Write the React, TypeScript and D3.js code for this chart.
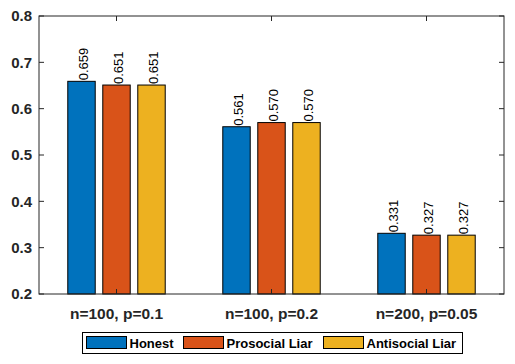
import React, { useRef, useEffect } from "react";
import * as d3 from "d3";

const categories = ["n=100, p=0.1", "n=100, p=0.2", "n=200, p=0.05"];
const seriesNames = ["Honest", "Prosocial Liar", "Antisocial Liar"];
const honest = [0.659, 0.561, 0.331];
const prosocial = [0.651, 0.57, 0.327];
const antisocial = [0.651, 0.57, 0.327];
const yTicks = [0.2, 0.3, 0.4, 0.5, 0.6, 0.7, 0.8];
const colors = ["#0072BD", "#D95319", "#EDB120"];

const W = 515;
const H = 364;
const left = 39;
const right = 504;
const top = 16;
const bottom = 294;
const font = "'Liberation Sans', Arial, sans-serif";
const ink = "#262626";

const App = () => {
  const ref = useRef<SVGSVGElement>(null);

  useEffect(() => {
    const svg = d3.select(ref.current);
    svg.selectAll("*").remove();

    const series = [honest, prosocial, antisocial];
    const x = d3.scaleLinear().domain([0.5, 3.5]).range([left, right]);
    const y = d3.scaleLinear().domain([0.2, 0.8]).range([bottom, top]);
    const offset = 0.2258;
    const bw = 0.177;

    series.forEach((vals, s) => {
      const g = svg.append("g");
      g.selectAll("rect")
        .data(vals)
        .enter()
        .append("rect")
        .attr("x", (d, i) => x(i + 1 + (s - 1) * offset - bw / 2))
        .attr("y", (d) => y(d))
        .attr("width", x(bw) - x(0))
        .attr("height", (d) => y(0.2) - y(d))
        .attr("fill", colors[s])
        .attr("stroke", "#000")
        .attr("stroke-width", 1);

      g.selectAll("text")
        .data(vals)
        .enter()
        .append("text")
        .attr("transform", (d, i) => {
          const cx = x(i + 1 + (s - 1) * offset);
          return `translate(${cx + 6.5}, ${y(d) - 1}) rotate(-90)`;
        })
        .attr("font-family", font)
        .attr("font-size", 13)
        .attr("fill", "#000")
        .text((d) => d3.format(".3f")(d));
    });

    // box
    svg.append("rect")
      .attr("x", left).attr("y", top)
      .attr("width", right - left).attr("height", bottom - top)
      .attr("fill", "none").attr("stroke", ink).attr("stroke-width", 1);

    // y ticks
    const yg = svg.append("g");
    yTicks.forEach((t) => {
      yg.append("line").attr("x1", left).attr("x2", left + 5).attr("y1", y(t)).attr("y2", y(t)).attr("stroke", ink);
      yg.append("line").attr("x1", right).attr("x2", right - 5).attr("y1", y(t)).attr("y2", y(t)).attr("stroke", ink);
      yg.append("text")
        .attr("x", left - 7)
        .attr("y", y(t))
        .attr("dy", "0.36em")
        .attr("text-anchor", "end")
        .attr("font-family", font)
        .attr("font-weight", "bold")
        .attr("font-size", 15)
        .attr("fill", ink)
        .text(d3.format(".1f")(t));
    });

    // x ticks
    const xg = svg.append("g");
    categories.forEach((c, i) => {
      const cx = x(i + 1);
      xg.append("line").attr("x1", cx).attr("x2", cx).attr("y1", bottom).attr("y2", bottom - 5).attr("stroke", ink);
      xg.append("line").attr("x1", cx).attr("x2", cx).attr("y1", top).attr("y2", top + 5).attr("stroke", ink);
      xg.append("text")
        .attr("x", cx)
        .attr("y", 319)
        .attr("text-anchor", "middle")
        .attr("font-family", font)
        .attr("font-weight", "bold")
        .attr("font-size", 15.5)
        .attr("fill", ink)
        .text(c);
    });

    // legend
    const lg = svg.append("g");
    lg.append("rect")
      .attr("x", 82.5).attr("y", 332.5).attr("width", 380).attr("height", 21)
      .attr("fill", "#fff").attr("stroke", "#000");
    const swX = [86.5, 183.5, 323.5];
    seriesNames.forEach((n, i) => {
      lg.append("rect")
        .attr("x", swX[i]).attr("y", 336.5).attr("width", 40).attr("height", 12)
        .attr("fill", colors[i]).attr("stroke", "#000");
      lg.append("text")
        .attr("x", swX[i] + 43)
        .attr("y", 343)
        .attr("dy", "0.36em")
        .attr("font-family", font)
        .attr("font-weight", "bold")
        .attr("font-size", 13)
        .attr("fill", "#000")
        .text(n);
    });
  }, []);

  return (
    <svg
      ref={ref}
      width={W}
      height={H}
      style={{ position: "absolute", left: 0, top: 0, background: "#fff" }}
    />
  );
};

export default App;
